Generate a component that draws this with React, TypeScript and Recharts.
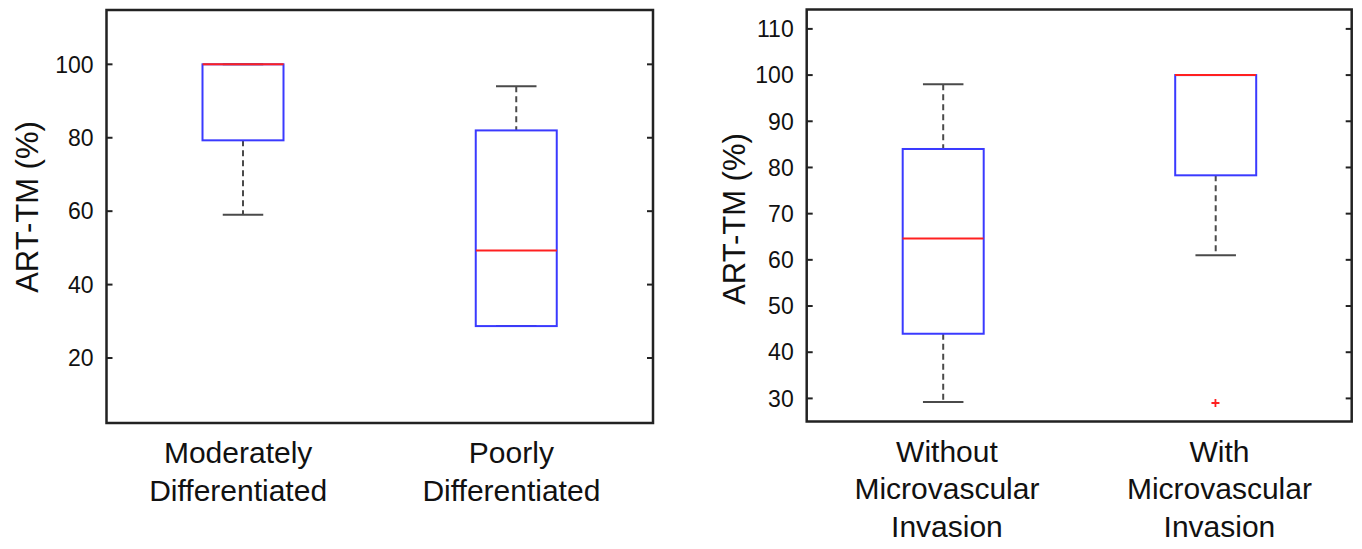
import { ComposedChart, Bar, Scatter, XAxis, YAxis, ReferenceArea } from "recharts";

// left panel: tumour grade
const gradeCategories = ["Moderately\nDifferentiated", "Poorly\nDifferentiated"];
const gradeLowerWhisker = [59, 28.7];
const gradeQ1 = [79.3, 28.7];
const gradeMedian = [100, 49.3];
const gradeQ3 = [100, 82];
const gradeUpperWhisker = [100, 94];
const gradeOutliers: (number | null)[] = [null, null];
const gradeTicks = [20, 40, 60, 80, 100];

// right panel: microvascular invasion
const mviCategories = ["Without\nMicrovascular\nInvasion", "With\nMicrovascular\nInvasion"];
const mviLowerWhisker = [29.2, 61];
const mviQ1 = [44, 78.3];
const mviMedian = [64.6, 100];
const mviQ3 = [84, 100];
const mviUpperWhisker = [98, 100];
const mviOutliers: (number | null)[] = [null, 29];
const mviTicks = [30, 40, 50, 60, 70, 80, 90, 100, 110];

const FONT = "'Liberation Sans', Arial, Helvetica, sans-serif";
const FRAME = "#222";
const WHISKER = "#4a4a4a";
const BOX = "#3a3aff";
const MEDIAN = "#ff2020";

const buildRows = (
  names: string[],
  lo: number[],
  q1: number[],
  med: number[],
  q3: number[],
  hi: number[],
  out: (number | null)[]
) =>
  names.map((name, i) => ({
    name,
    box: [q1[i], q3[i]],
    lower: [lo[i], q1[i]],
    upper: [q3[i], hi[i]],
    median: med[i],
    outlier: out[i],
  }));

const BoxShape = (p: any) => (
  <rect x={p.x} y={p.y} width={p.width} height={p.height} fill="none" stroke={BOX} strokeWidth={2} />
);

const UpperWhisker = (p: any) => {
  const cx = p.x + p.width / 2;
  const cap = p.width / 4;
  return (
    <g>
      <line x1={cx} y1={p.y} x2={cx} y2={p.y + p.height} stroke={WHISKER} strokeWidth={2} strokeDasharray="6 4" />
      <line x1={cx - cap} y1={p.y} x2={cx + cap} y2={p.y} stroke={WHISKER} strokeWidth={2} />
    </g>
  );
};

const LowerWhisker = (p: any) => {
  const cx = p.x + p.width / 2;
  const cap = p.width / 4;
  const yb = p.y + p.height;
  return (
    <g>
      <line x1={cx} y1={p.y} x2={cx} y2={yb} stroke={WHISKER} strokeWidth={2} strokeDasharray="6 4" />
      <line x1={cx - cap} y1={yb} x2={cx + cap} y2={yb} stroke={WHISKER} strokeWidth={2} />
    </g>
  );
};

const MedianShape = (p: any) => {
  if (p.cy == null || isNaN(p.cy)) return <g />;
  return <line x1={p.cx - 40.5} y1={p.cy} x2={p.cx + 40.5} y2={p.cy} stroke={MEDIAN} strokeWidth={2} />;
};

const OutlierShape = (p: any) => {
  if (p.payload?.outlier == null || isNaN(p.cy)) return <g />;
  return (
    <g stroke={MEDIAN} strokeWidth={1.8}>
      <line x1={p.cx - 4} y1={p.cy} x2={p.cx + 4} y2={p.cy} />
      <line x1={p.cx} y1={p.cy - 4} x2={p.cx} y2={p.cy + 4} />
    </g>
  );
};

const renderValueTick = (plotWidth: number) => (p: any) => (
  <g key={`t-${p.payload.value}`}>
    <line x1={p.x} y1={p.y} x2={p.x + 6} y2={p.y} stroke={FRAME} strokeWidth={2} />
    <line x1={p.x + plotWidth - 6} y1={p.y} x2={p.x + plotWidth} y2={p.y} stroke={FRAME} strokeWidth={2} />
    <text x={p.x - 13} y={p.y} dy="0.36em" textAnchor="end" fontSize={23} fontFamily={FONT} fill="#111">
      {p.payload.value}
    </text>
  </g>
);

const renderCategoryTick = (shift: number) => (p: any) => {
  const lines = String(p.payload.value).split("\n");
  const x = p.x + shift;
  return (
    <text key={`c-${p.index}`} x={x} y={p.y + 40} textAnchor="middle" fontSize={30} fontFamily={FONT} fill="#111">
      {lines.map((t, i) => (
        <tspan key={i} x={x} dy={i === 0 ? 0 : 37.7}>
          {t}
        </tspan>
      ))}
    </text>
  );
};

type PanelProps = {
  rows: ReturnType<typeof buildRows>;
  ticks: number[];
  domain: [number, number];
  left: number;
  width: number;
  margin: { top: number; right: number; bottom: number; left: number };
  xAxisHeight: number;
  labelDx: number;
  labelDy: number;
  catShift: number;
};

const BoxPanel = ({ rows, ticks, domain, left, width, margin, xAxisHeight, labelDx, labelDy, catShift }: PanelProps) => {
  const plotWidth = width - margin.left - margin.right - 100;
  return (
    <div style={{ position: "absolute", left, top: 0 }}>
      <ComposedChart width={width} height={549} data={rows} margin={margin}>
        <XAxis
          xAxisId="box"
          dataKey="name"
          type="category"
          height={xAxisHeight}
          interval={0}
          axisLine={false}
          tickLine={false}
          tickSize={0}
          tickMargin={0}
          tick={renderCategoryTick(catShift)}
        />
        <XAxis xAxisId="up" dataKey="name" type="category" hide />
        <XAxis xAxisId="low" dataKey="name" type="category" hide />
        <YAxis
          yAxisId="l"
          type="number"
          domain={domain}
          allowDataOverflow
          ticks={ticks}
          interval={0}
          width={100}
          axisLine={false}
          tickLine={false}
          tickSize={0}
          tickMargin={0}
          tick={renderValueTick(plotWidth)}
          label={(lp: any) => {
            const vb = lp.viewBox || { x: 0, y: 0, width: 0, height: 0 };
            const x = vb.x + labelDx;
            const y = vb.y + vb.height / 2 + labelDy;
            return (
              <text
                x={x}
                y={y}
                transform={`rotate(-90, ${x}, ${y})`}
                textAnchor="middle"
                fontSize={31}
                fontFamily={FONT}
                fill="#111"
              >
                ART-TM (%)
              </text>
            );
          }}
        />
        <Bar xAxisId="up" yAxisId="l" dataKey="upper" barSize={81} shape={<UpperWhisker />} isAnimationActive={false} />
        <Bar xAxisId="low" yAxisId="l" dataKey="lower" barSize={81} shape={<LowerWhisker />} isAnimationActive={false} />
        <Bar xAxisId="box" yAxisId="l" dataKey="box" barSize={81} shape={<BoxShape />} isAnimationActive={false} />
        <Scatter xAxisId="box" yAxisId="l" dataKey="median" shape={<MedianShape />} isAnimationActive={false} />
        <Scatter xAxisId="box" yAxisId="l" dataKey="outlier" shape={<OutlierShape />} isAnimationActive={false} />
        <ReferenceArea
          xAxisId="box"
          yAxisId="l"
          y1={domain[0]}
          y2={domain[1]}
          fill="none"
          stroke={FRAME}
          strokeWidth={2.5}
          ifOverflow="visible"
        />
      </ComposedChart>
    </div>
  );
};

export default function App() {
  const gradeRows = buildRows(gradeCategories, gradeLowerWhisker, gradeQ1, gradeMedian, gradeQ3, gradeUpperWhisker, gradeOutliers);
  const mviRows = buildRows(mviCategories, mviLowerWhisker, mviQ1, mviMedian, mviQ3, mviUpperWhisker, mviOutliers);
  return (
    <div style={{ position: "absolute", left: 0, top: 0, width: 1362, height: 549, background: "#fff", overflow: "hidden" }}>
      <BoxPanel
        rows={gradeRows}
        ticks={gradeTicks}
        domain={[2.3, 114.8]}
        left={0}
        width={670}
        margin={{ top: 10, right: 17, bottom: 0, left: 6.5 }}
        xAxisHeight={126}
        labelDx={31}
        labelDy={-9.5}
        catShift={-5}
      />
      <BoxPanel
        rows={mviRows}
        ticks={mviTicks}
        domain={[25, 114.2]}
        left={700}
        width={662}
        margin={{ top: 9.5, right: 10.3, bottom: 0, left: 6.7 }}
        xAxisHeight={127.5}
        labelDx={38.3}
        labelDy={3.5}
        catShift={4}
      />
    </div>
  );
}
